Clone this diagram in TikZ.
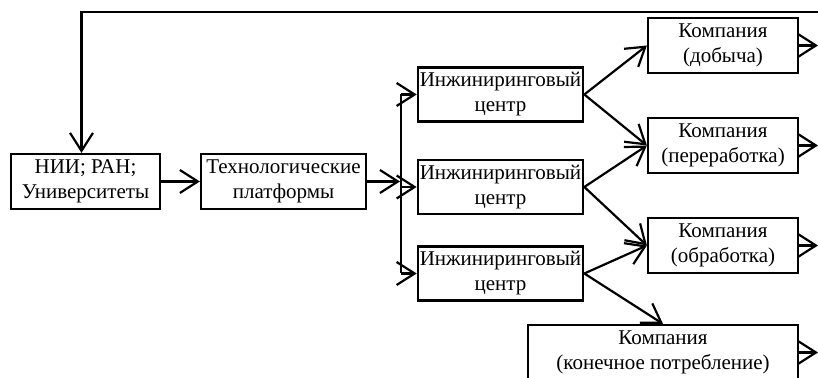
\documentclass[tikz,border=0pt]{standalone}
\usepackage{fontspec}
\setmainfont{Liberation Serif}
\usetikzlibrary{arrows.meta}
\tikzset{>={Straight Barb[length=9pt, width=11.5pt]}}
\tikzset{box/.style = {draw, align = center, inner sep = 1pt,
                       minimum height = 27.5pt,
                       font = \fontsize{10.5}{12.5}\selectfont}}
\begin{document}
\begin{tikzpicture}[x = 0.5pt, y = -0.5pt, line width = 1.1pt]
    \useasboundingbox (0, 0) rectangle (818, 378);
    \node [box, minimum width = 74.5pt] (nii) at (85.5, 181.5) {НИИ; РАН;\\Университеты};
    \node [box, minimum width = 82.5pt] (tech) at (283.5, 181.5) {Технологические\\платформы};
    \node [box, minimum width = 78.5pt, minimum height = 27pt] (eng1) at (500.5, 94.5) {Инжиниринговый\\центр};
    \node [box, minimum width = 78.5pt, minimum height = 27pt] (eng2) at (500.5, 187) {Инжиниринговый\\центр};
    \node [box, minimum width = 78.5pt, minimum height = 27pt] (eng3) at (500.5, 273.5) {Инжиниринговый\\центр};
    \node [box, minimum width = 75pt] (comp1) at (723, 45.5) {Компания\\(добыча)};
    \node [box, minimum width = 75pt] (comp2) at (723, 145.5) {Компания\\(переработка)};
    \node [box, minimum width = 75pt] (comp3) at (723, 245.5) {Компания\\(обработка)};
    \node [box, minimum width = 135pt] (comp4) at (663, 352.5) {Компания\\(конечное потребление)};
    \coordinate (fb) at (818, 12);
    \coordinate (bartop) at (401, 94.5);
    \coordinate (barbot) at (401, 273.5);
    \coordinate (bar) at (400, 181.5);
    \draw [->] (fb) -| ([xshift = -2pt] nii.north);
    \draw [->] (nii) -- (tech);
    \draw [->] (tech) -- (bar);
    \draw (bartop) -- (barbot);
    \draw [->] (bartop) -- (eng1.west);
    \draw [->] (eng2.west -| bartop) -- (eng2.west);
    \draw [->] (barbot) -- (eng3.west);
    \draw [->] (eng1.east) -- (comp1.west);
    \draw [->] (eng1.east) -- (comp2.west);
    \draw [->] (eng2.east) -- (comp2.west);
    \draw [->] (eng2.east) -- (comp3.west);
    \draw [->] (eng3.east) -- (comp3.west);
    \draw [->] (eng3.east) -- (comp4.north);
    \draw [->] (comp1.east) -- (comp1.east -| fb);
    \draw [->] (comp2.east) -- (comp2.east -| fb);
    \draw [->] (comp3.east) -- (comp3.east -| fb);
    \draw [->] (comp4.east) -- (comp4.east -| fb);
  \end{tikzpicture}
\end{document}
